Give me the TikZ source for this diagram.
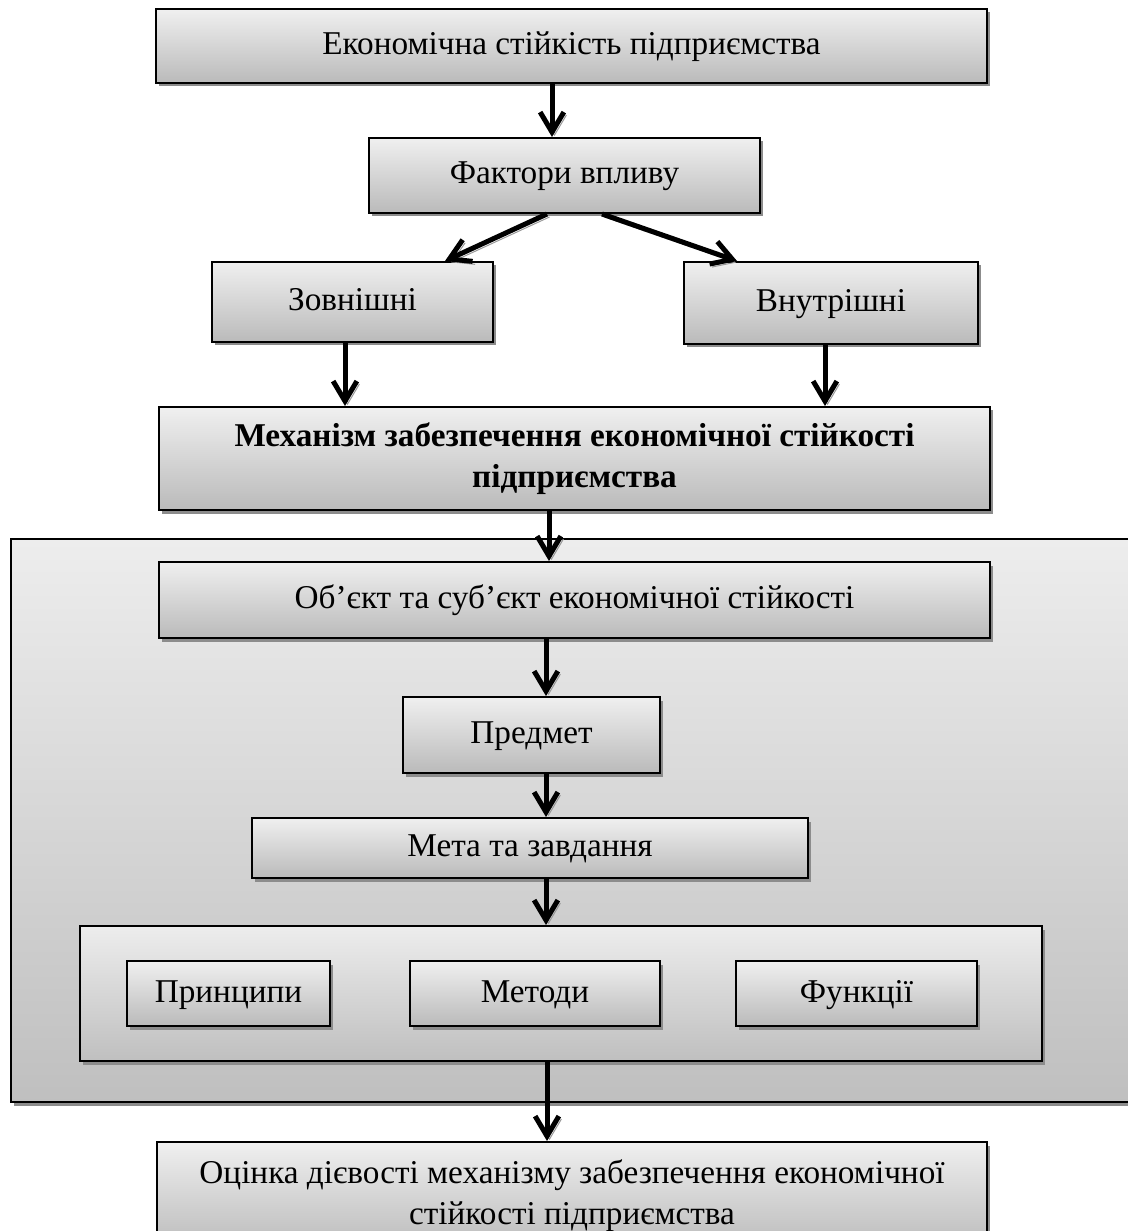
\documentclass[tikz,border=0pt]{standalone}
\usepackage{fontspec}
\setmainfont{Liberation Serif}
\usetikzlibrary{arrows.meta,shadows}

\begin{document}
\begin{tikzpicture}[x=0.4pt,y=-0.4pt,
    box/.style={draw,line width=0.8pt,shape=rectangle,inner sep=0pt,align=center,
      top color=black!6,bottom color=black!27,
      drop shadow={shadow xshift=1.2pt,shadow yshift=-1.4pt,fill=black!45,opacity=1},
      font=\fontsize{13.3}{16.4}\selectfont},
    onerow/.style={box,text height=9.8pt,text depth=3pt},
    frame/.style={box,top color=black!7,bottom color=black!25},
    flow/.style={line width=2pt,-{Straight Barb[length=8pt,width=9.5pt]},
      preaction={draw=black!40,transform canvas={shift={(1pt,-1.2pt)}}}}]
  \useasboundingbox (0,0) rectangle (1127,1231);
  \node[onerow,minimum width=332.4pt,minimum height=29.6pt] (stab) at (571.5,46) {Економічна стійкість підприємства};
  \node[onerow,minimum width=156.4pt,minimum height=30pt] (fact) at (564.5,175.5) {Фактори впливу};
  \node[onerow,minimum width=112.4pt,minimum height=32pt] (extf) at (352.5,302) {Зовнішні};
  \node[onerow,minimum width=117.6pt,minimum height=32.8pt] (intf) at (831,303) {Внутрішні};
  \node[box,minimum width=332.4pt,minimum height=41.2pt] (mech) at (574.5,458.5) {\bfseries Механізм забезпечення економічної стійкості\\ \bfseries підприємства};
  % mechanism block
  \node[frame,minimum width=449.6pt,minimum height=225.2pt] (mframe) at (573,820.5) {};
  \node[onerow,minimum width=332.4pt,minimum height=30.4pt] (objs) at (574.5,600) {Об’єкт та суб’єкт економічної стійкості};
  \node[onerow,minimum width=102.8pt,minimum height=30.4pt] (subj) at (531.5,735) {Предмет};
  \node[onerow,minimum width=222.4pt,minimum height=24pt] (goal) at (530,848) {Мета та завдання};
  \node[frame,minimum width=384.8pt,minimum height=54pt] (tools) at (561,993.5) {};
  \node[onerow,minimum width=81.2pt,minimum height=26pt] (princ) at (228.5,993.5) {Принципи};
  \node[onerow,minimum width=100pt,minimum height=26pt] (meth) at (535,993.5) {Методи};
  \node[onerow,minimum width=96.4pt,minimum height=26pt] (func) at (856.5,993.5) {Функції};
  \node[box,minimum width=332pt,minimum height=43.2pt] (eval) at (572,1196) {Оцінка дієвості механізму забезпечення економічної\\ стійкості підприємства};
  % arrows
  \draw[flow] ([xshift=-7.8pt]stab.south) -- ([xshift=-7.8pt]stab.south |- fact.north);
  \draw[flow] ([xshift=-7pt]fact.south) -- ([xshift=37pt]extf.north);
  \draw[flow] ([xshift=15pt]fact.south) -- ([xshift=-37.6pt]intf.north);
  \draw[flow] ([xshift=-3pt]extf.south) -- ([xshift=-3pt]extf.south |- mech.north);
  \draw[flow] ([xshift=-2.4pt]intf.south) -- ([xshift=-2.4pt]intf.south |- mech.north);
  \draw[flow] ([xshift=-10.2pt]mech.south) -- ([xshift=-10.2pt]mech.south |- objs.north);
  \draw[flow] ([xshift=5.8pt]subj.north |- objs.south) -- ([xshift=5.8pt]subj.north);
  \draw[flow] ([xshift=5.8pt]subj.south) -- ([xshift=5.8pt]subj.south |- goal.north);
  \draw[flow] ([xshift=6.4pt]goal.south) -- ([xshift=6.4pt]goal.south |- tools.north);
  \draw[flow] ([xshift=-5.6pt]tools.south) -- ([xshift=-5.6pt]tools.south |- eval.north);
\end{tikzpicture}
\end{document}
